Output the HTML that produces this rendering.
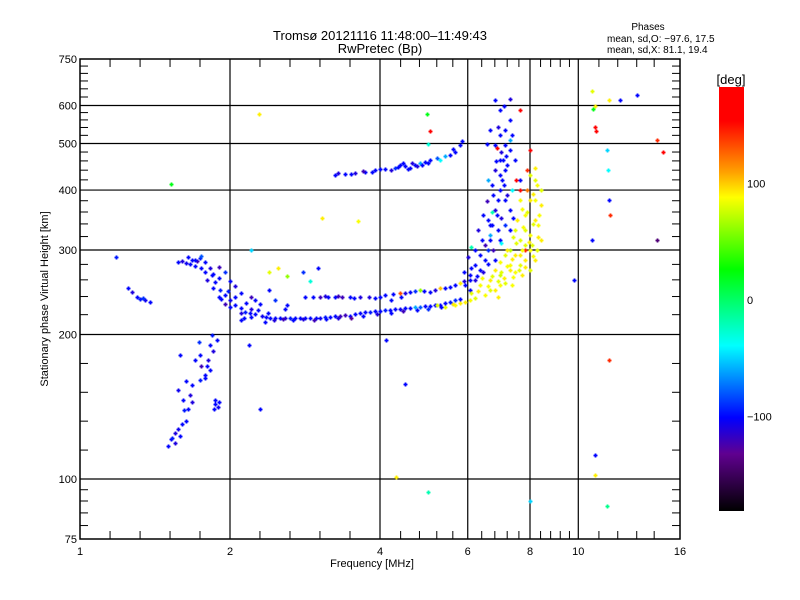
<!DOCTYPE html>
<html><head><meta charset="utf-8">
<style>
html,body{margin:0;padding:0;background:#fff;}
svg{display:block;font-family:"Liberation Sans",sans-serif;}
</style></head>
<body>
<svg id="chart" width="800" height="600" viewBox="0 0 800 600" xmlns="http://www.w3.org/2000/svg">
  <defs>
    <linearGradient id="cmap" x1="0" y1="1" x2="0" y2="0">
      <stop offset="0" stop-color="#000000"/>
      <stop offset="0.135" stop-color="#600090"/>
      <stop offset="0.22" stop-color="#0000ff"/>
      <stop offset="0.39" stop-color="#00ffff"/>
      <stop offset="0.57" stop-color="#00ff00"/>
      <stop offset="0.74" stop-color="#ffff00"/>
      <stop offset="0.80" stop-color="#ffa000"/>
      <stop offset="0.92" stop-color="#ff0000"/>
      <stop offset="1" stop-color="#ff0000"/>
    </linearGradient>
  </defs>
  <text x="380" y="40" font-size="13" text-anchor="middle">Tromsø 20121116 11:48:00–11:49:43</text>
  <text x="380" y="53" font-size="13" text-anchor="middle">RwPretec (Bp)</text>
  <text x="648" y="30" font-size="10" text-anchor="middle">Phases</text>
  <text x="607" y="42" font-size="10">mean, sd,O: −97.6, 17.5</text>
  <text x="607" y="53" font-size="10">mean, sd,X:  81.1, 19.4</text>
  <g id="grid"></g>
  <g id="points"></g>
  <g id="axes"></g>
  <rect x="80" y="59" width="600" height="480" fill="none" stroke="#000" stroke-width="1.5"/>
  <text x="372" y="567" font-size="11" text-anchor="middle">Frequency [MHz]</text>
  <text transform="translate(48,299) rotate(-90)" font-size="11" text-anchor="middle">Stationary phase Virtual Height [km]</text>
  <rect x="719" y="87" width="25" height="424" fill="url(#cmap)"/>
  <text x="731" y="84" font-size="13" text-anchor="middle">[deg]</text>
  <g id="cbar"></g>
</svg>
<script>
const xTickValues = [1, 2, 4, 6, 8, 10, 16];
const xGridValues = [2, 4, 6, 8, 10];
const xMinorValues = [1.149, 1.32, 1.516, 1.741, 2.297, 2.639, 3.031, 3.482, 4.4, 4.8, 5.2, 5.6, 6.4, 6.8, 7.2, 7.6, 8.4, 8.8, 9.2, 9.6, 11, 12, 13.1, 14.2];
const yTickValues = [75, 100, 200, 300, 400, 500, 600, 750];
const yGridValues = [100, 200, 300, 400, 500, 600];
const yMinorValues = [80, 85, 90, 95, 114.9, 132, 151.6, 174.1, 220, 240, 260, 280, 320, 340, 360, 380, 420, 440, 460, 480, 520, 540, 560, 580, 625, 650, 675, 700, 725];
const cbarTickValues = [-100, 0, 100];

// [freq MHz, virtual height km, phase deg]
const lowIsolated = [[1.18,290,-95],[1.25,250,-100],[1.27,245,-110],[1.30,240,-100],[1.32,237,-95],[1.35,236,-105],[1.38,234,-100],[1.34,238,-90]];
const bottomBranch = [[1.52,121,-100],[1.55,119,-110],[1.53,122,-95],[1.59,123,-100],[1.57,127,-105],[1.63,132,-100],[1.66,150,-110],[1.68,157,-100],[1.74,161,-95],[1.78,162,-100],[1.87,143,-100],[1.89,141,-105],[1.82,169,-100],[1.81,177,-110],[1.82,190,-100],[1.84,200,-95],[1.74,181,-100],[1.73,193,-90],[1.59,181,-100],[1.57,153,-105],[1.61,146,-100],[1.62,139,-95],[1.70,177,-100],[1.75,172,-120],[1.87,146,-100],[1.5,117,-100],[1.55,125,-110],[1.6,130,-100],[1.65,140,-100],[1.68,145,-110],[1.78,165,-100],[1.8,172,-100],[1.85,185,-110],[1.88,195,-100],[1.9,145,-100],[1.86,140,-100],[1.63,160,-100]];
const mainOTrace = [[1.57,283,-100],[1.63,282,-105],[1.68,286,-100],[1.74,289,-95],[1.78,283,-100],[1.82,275,-110],[1.84,266,-100],[1.87,257,-100],[1.91,248,-95],[1.95,242,-100],[2.0,236,-105],[2.05,230,-100],[2.10,227,-100],[2.14,223,-95],[2.19,222,-100],[2.25,221,-100],[2.32,219,-105],[2.41,217,-100],[2.52,217,-100],[2.64,217,-95],[2.76,217,-100],[2.90,217,-100],[3.03,217,-105],[3.18,218,-100],[3.33,219,-120],[3.48,219,-100],[3.65,222,-100],[3.82,223,-95],[4.0,224,-100],[4.19,225,-100],[4.39,226,-105],[4.60,227,-100],[4.81,228,-80],[5.04,229,-100],[5.28,230,-100],[5.53,234,-95],[5.79,237,-100],[2.36,218,-100],[2.46,217,-100],[2.58,217,-110],[2.70,217,-100],[2.83,217,-100],[2.97,217,-100],[3.10,218,-95],[3.25,219,-100],[3.40,220,-120],[3.56,221,-100],[3.73,223,-100],[3.91,224,-100],[4.09,225,-95],[4.29,226,-100],[4.49,227,-100],[4.70,228,-60],[4.93,229,-100],[5.16,230,-100],[5.40,233,-100],[5.66,236,-90]];
const mainOTraceB = [[2.45,214,-110],[2.55,215,-120],[2.68,214,-100],[2.8,215,-110],[2.95,214,-120],[3.12,215,-100],[3.3,216,-110],[3.5,217,-130],[3.7,219,-100],[3.95,221,-110],[4.2,222,-100],[4.45,224,-120],[4.75,225,-100],[5.0,226,-90],[5.3,228,-100],[5.6,231,-100],[2.2,218,-100],[2.1,222,-110],[2.0,228,-100],[1.95,232,-120],[1.9,240,-100],[1.85,250,-100],[1.8,260,-110],[1.85,268,-100],[1.9,276,-120],[1.75,275,-100],[1.7,278,-100],[1.6,285,-110],[1.65,290,-100],[1.72,285,-120],[2.28,225,-100],[2.38,222,-100]];
const branchScatter = [[1.78,270,-100],[1.90,262,-100],[1.95,270,-90],[2.0,258,-100],[2.05,252,-110],[2.1,244,-100],[2.05,240,-100],[1.98,246,-95],[1.92,237,-100],[2.15,233,-100],[2.2,240,-120],[2.3,232,-100],[2.25,236,-100],[2.4,248,-100],[2.46,236,-90],[2.58,226,-100],[1.70,286,-100],[1.75,292,-80],[1.66,280,-100],[2.1,214,-100],[2.13,216,-100],[2.35,212,-100],[2.6,230,-100],[2.2,226,-110],[2.4,270,80],[2.5,275,90],[2.2,300,-50],[2.6,265,60],[2.8,270,-90],[3.0,275,-100],[2.9,258,-30]];
const secondOTrace = [[2.83,239,-100],[3.03,239,-120],[3.25,239,-100],[3.48,239,-100],[3.65,239,-110],[3.91,238,-100],[4.09,242,-100],[4.39,244,130],[4.60,245,-100],[4.81,248,60],[5.04,245,-100],[5.28,250,100],[5.53,251,-100],[5.79,256,90],[6.06,260,-100],[2.94,239,-100],[3.14,239,-100],[3.36,239,-120],[4.25,243,-100],[4.70,246,-90],[5.40,250,-100],[3.1,241,-110],[3.3,241,-120],[3.55,238,-100],[3.8,240,-110],[4.0,240,-100],[4.5,244,-110],[4.9,246,-100],[5.15,248,-110],[5.65,254,-100],[5.9,258,-110],[4.2,236,-100],[4.4,240,-100]];
const upperTrace = [[3.25,430,-100],[3.40,432,-100],[3.56,434,-110],[3.73,436,-100],[3.91,440,-100],[4.09,443,-100],[4.29,445,-90],[4.49,449,-100],[4.60,445,-100],[4.70,451,-100],[4.81,455,-60],[4.93,458,-100],[5.04,462,-100],[5.28,462,-40],[5.53,473,-100],[5.66,480,-100],[5.79,497,-100],[4.39,452,-100],[4.64,455,-110],[3.3,434,-110],[3.5,431,-100],[3.7,438,-120],[3.85,437,-100],[4.0,442,-100],[4.2,441,-110],[4.35,447,-100],[4.55,443,-100],[4.75,448,-110],[4.85,452,-100],[5.0,455,-100],[5.2,466,-80],[5.4,470,-60],[5.6,488,-100],[5.85,505,-100],[4.45,455,-100]];
const xCloud = [[5.40,228,80],[5.66,230,85],[5.93,234,90],[6.2,238,80],[6.5,242,85],[6.8,248,90],[7.13,256,80],[7.47,270,85],[7.82,286,90],[8.08,307,80],[8.3,338,85],[8.4,372,90],[8.4,400,80],[6.35,254,85],[6.65,260,90],[6.96,266,75],[7.29,279,85],[7.64,293,90],[7.82,307,80],[8.0,322,85],[8.2,346,90],[7.64,315,80],[7.29,300,70],[6.96,283,85],[6.8,273,90],[7.47,330,80],[7.82,355,85],[8.0,381,90],[8.2,420,80],[7.64,381,85],[7.9,400,120],[7.29,273,90],[7.13,293,80],[8.0,300,85],[8.2,286,90],[7.64,279,80],[6.06,236,85],[5.79,233,90],[6.65,248,80],[6.96,254,85],[7.47,293,90],[7.82,330,80],[8.2,381,85],[8.4,315,90],[8.0,273,80],[7.36,254,85],[7.7,266,90],[6.1,244,80],[6.3,247,90],[6.6,252,85],[6.9,258,80],[7.1,262,90],[7.4,264,85],[7.6,272,80],[7.8,276,90],[8.1,292,85],[8.25,300,80],[8.3,320,90],[8.35,355,85],[8.1,340,80],[7.95,312,90],[7.7,300,85],[7.5,310,80],[7.35,288,90],[7.2,278,85],[7.0,270,80],[7.55,346,90],[7.7,365,85],[7.9,360,80],[8.1,392,90],[8.25,410,85],[8.0,430,80],[8.2,445,90],[7.75,335,85],[7.4,320,80],[7.2,300,90],[6.7,265,80],[6.4,262,85],[5.6,232,90],[5.2,230,80],[6.9,240,90]];
const oCloud = [[6.06,248,-100],[6.2,260,-110],[6.35,273,-100],[6.5,286,-100],[6.6,300,-90],[6.65,315,-100],[6.72,338,-100],[6.8,363,-110],[6.9,381,-100],[6.96,400,-100],[7.03,420,-100],[7.13,440,-100],[6.96,462,-100],[7.29,485,-100],[7.13,533,-100],[7.29,560,-100],[6.96,587,-100],[6.8,616,-100],[6.65,338,-100],[6.5,307,-120],[6.8,286,-100],[6.96,315,-100],[7.13,338,-90],[7.29,363,-100],[7.13,381,-100],[6.86,355,-100],[6.65,322,-60],[6.35,293,-100],[6.2,279,-100],[6.96,521,-100],[7.13,497,-100],[7.29,509,-60],[6.8,497,-100],[6.65,533,-100],[7.47,462,-100],[7.64,420,-100],[6.06,266,-100],[5.93,254,-100],[6.4,315,-100],[6.58,346,-100],[6.75,390,-100],[7.06,462,-100],[7.5,420,170],[7.64,400,150],[8.0,485,170],[7.82,300,140],[7.9,440,140],[7.64,587,170],[6.86,489,170],[6.2,300,-100],[6.3,330,-110],[6.45,355,-100],[6.55,380,-120],[6.7,410,-100],[6.8,440,-110],[6.95,430,-100],[7.1,410,-100],[7.2,390,-110],[7.3,330,-100],[7.4,350,-100],[7.0,350,-110],[6.9,330,-100],[6.75,300,-120],[6.6,280,-100],[6.45,270,-110],[6.25,265,-100],[6.1,275,-100],[6.0,290,-110],[5.9,270,-100],[6.85,460,-100],[7.0,480,-110],[7.15,470,-100],[7.35,520,-100],[7.1,600,-100],[7.3,620,-110],[6.55,500,-100],[6.9,540,-110],[7.2,450,-100],[7.0,310,-40],[6.7,360,-20],[7.35,400,-40],[6.6,420,-60]];
const isolatedScatter = [[2.29,576,90],[1.52,412,20],[3.06,350,90],[3.62,345,85],[4.98,575,20],[5.05,530,170],[4.5,158,-100],[4.11,195,-100],[4.3,101,90],[5.0,94,-20],[8.0,90,-50],[9.8,260,-100],[10.65,644,80],[10.8,600,90],[10.8,540,170],[10.7,590,20],[10.85,530,180],[10.65,315,-100],[10.8,112,-100],[10.8,102,90],[11.5,616,90],[11.4,485,-50],[11.45,440,-40],[11.5,382,-100],[11.6,355,140],[11.5,177,140],[11.4,88,-10],[12.1,616,-100],[13.1,630,-100],[14.4,509,140],[14.8,480,170],[14.4,315,-140],[2.18,190,-100],[2.3,140,-100],[5.0,500,-30],[6.1,305,-20]];

const X0 = 80, X1 = 680, Y0 = 539, Y1 = 59;
function xScale(f){ return X0 + (X1 - X0) * Math.log(f) / Math.log(16); }
function yScale(h){ return Y0 - (Y0 - Y1) * Math.log10(h / 75); }
function cbarY(p){ return 300 - p * 1.165; }
const cmapStops = [[0,[0,0,0]],[0.135,[96,0,144]],[0.22,[0,0,255]],[0.39,[0,255,255]],[0.57,[0,255,0]],[0.74,[255,255,0]],[0.80,[255,160,0]],[0.92,[255,0,0]],[1,[255,0,0]]];
function phaseColor(p){
  let t = Math.max(0, Math.min(1, (p + 180) / 360));
  for (let i = 1; i < cmapStops.length; i++){
    if (t <= cmapStops[i][0]){
      const a = cmapStops[i-1], b = cmapStops[i];
      const u = (t - a[0]) / (b[0] - a[0] || 1);
      const c = a[1].map((v, k) => Math.round(v + (b[1][k] - v) * u));
      return 'rgb(' + c.join(',') + ')';
    }
  }
  return 'rgb(255,0,0)';
}
const NS = 'http://www.w3.org/2000/svg';
function mk(tag, attrs, parent){
  const e = document.createElementNS(NS, tag);
  for (const k in attrs) e.setAttribute(k, attrs[k]);
  parent.appendChild(e);
  return e;
}
const grid = document.getElementById('grid');
const axes = document.getElementById('axes');
const pts = document.getElementById('points');
const cbar = document.getElementById('cbar');

xGridValues.forEach(v => {
  const x = xScale(v);
  const l = mk('line', {x1:x, y1:Y1, x2:x, y2:Y0, stroke:'#000', 'stroke-width':1.2}, grid);
  
  
});
yGridValues.forEach(v => {
  const y = yScale(v);
  const l = mk('line', {x1:X0, y1:y, x2:X1, y2:y, stroke:'#000', 'stroke-width':1.2}, grid);
  
  
});
xMinorValues.forEach(v => {
  const x = xScale(v);
  const a = mk('line', {x1:x, y1:Y0, x2:x, y2:Y0-8, stroke:'#000', 'stroke-width':1}, axes);
  
  
  const b = mk('line', {x1:x, y1:Y1, x2:x, y2:Y1+8, stroke:'#000', 'stroke-width':1}, axes);
  
  
});
yMinorValues.forEach(v => {
  const y = yScale(v);
  const a = mk('line', {x1:X0, y1:y, x2:X0+8, y2:y, stroke:'#000', 'stroke-width':1}, axes);
  
  
  const b = mk('line', {x1:X1, y1:y, x2:X1-8, y2:y, stroke:'#000', 'stroke-width':1}, axes);
  
  
});
xTickValues.forEach(v => {
  const x = xScale(v);
  const t = mk('text', {x:x, y:Y0+16, 'font-size':11, 'text-anchor':'middle'}, axes);
  t.textContent = String(v);
  
  
});
yTickValues.forEach(v => {
  const y = yScale(v);
  const t = mk('text', {x:X0-3, y:y+4, 'font-size':11, 'text-anchor':'end'}, axes);
  t.textContent = String(v);
  
  
});
cbarTickValues.forEach(v => {
  const y = cbarY(v);
  const t = mk('text', {x:747, y:y+4, 'font-size':11}, cbar);
  t.textContent = v < 0 ? '−' + Math.abs(v) : String(v);
  
  
});

function drawSeries(arr){
  arr.forEach(d => {
    const x = Math.round(xScale(d[0])) + 0.5, y = Math.round(yScale(d[1])) + 0.5;
    const p = mk('path', {d:'M'+(x-2)+' '+y+'h4M'+x+' '+(y-2)+'v4', stroke:phaseColor(d[2]), 'stroke-width':1.8, fill:'none'}, pts);
    
    
  });
}
[lowIsolated, bottomBranch, mainOTrace, mainOTraceB, branchScatter, secondOTrace, upperTrace, oCloud, xCloud, isolatedScatter].forEach(drawSeries);
</script>
</body></html>
